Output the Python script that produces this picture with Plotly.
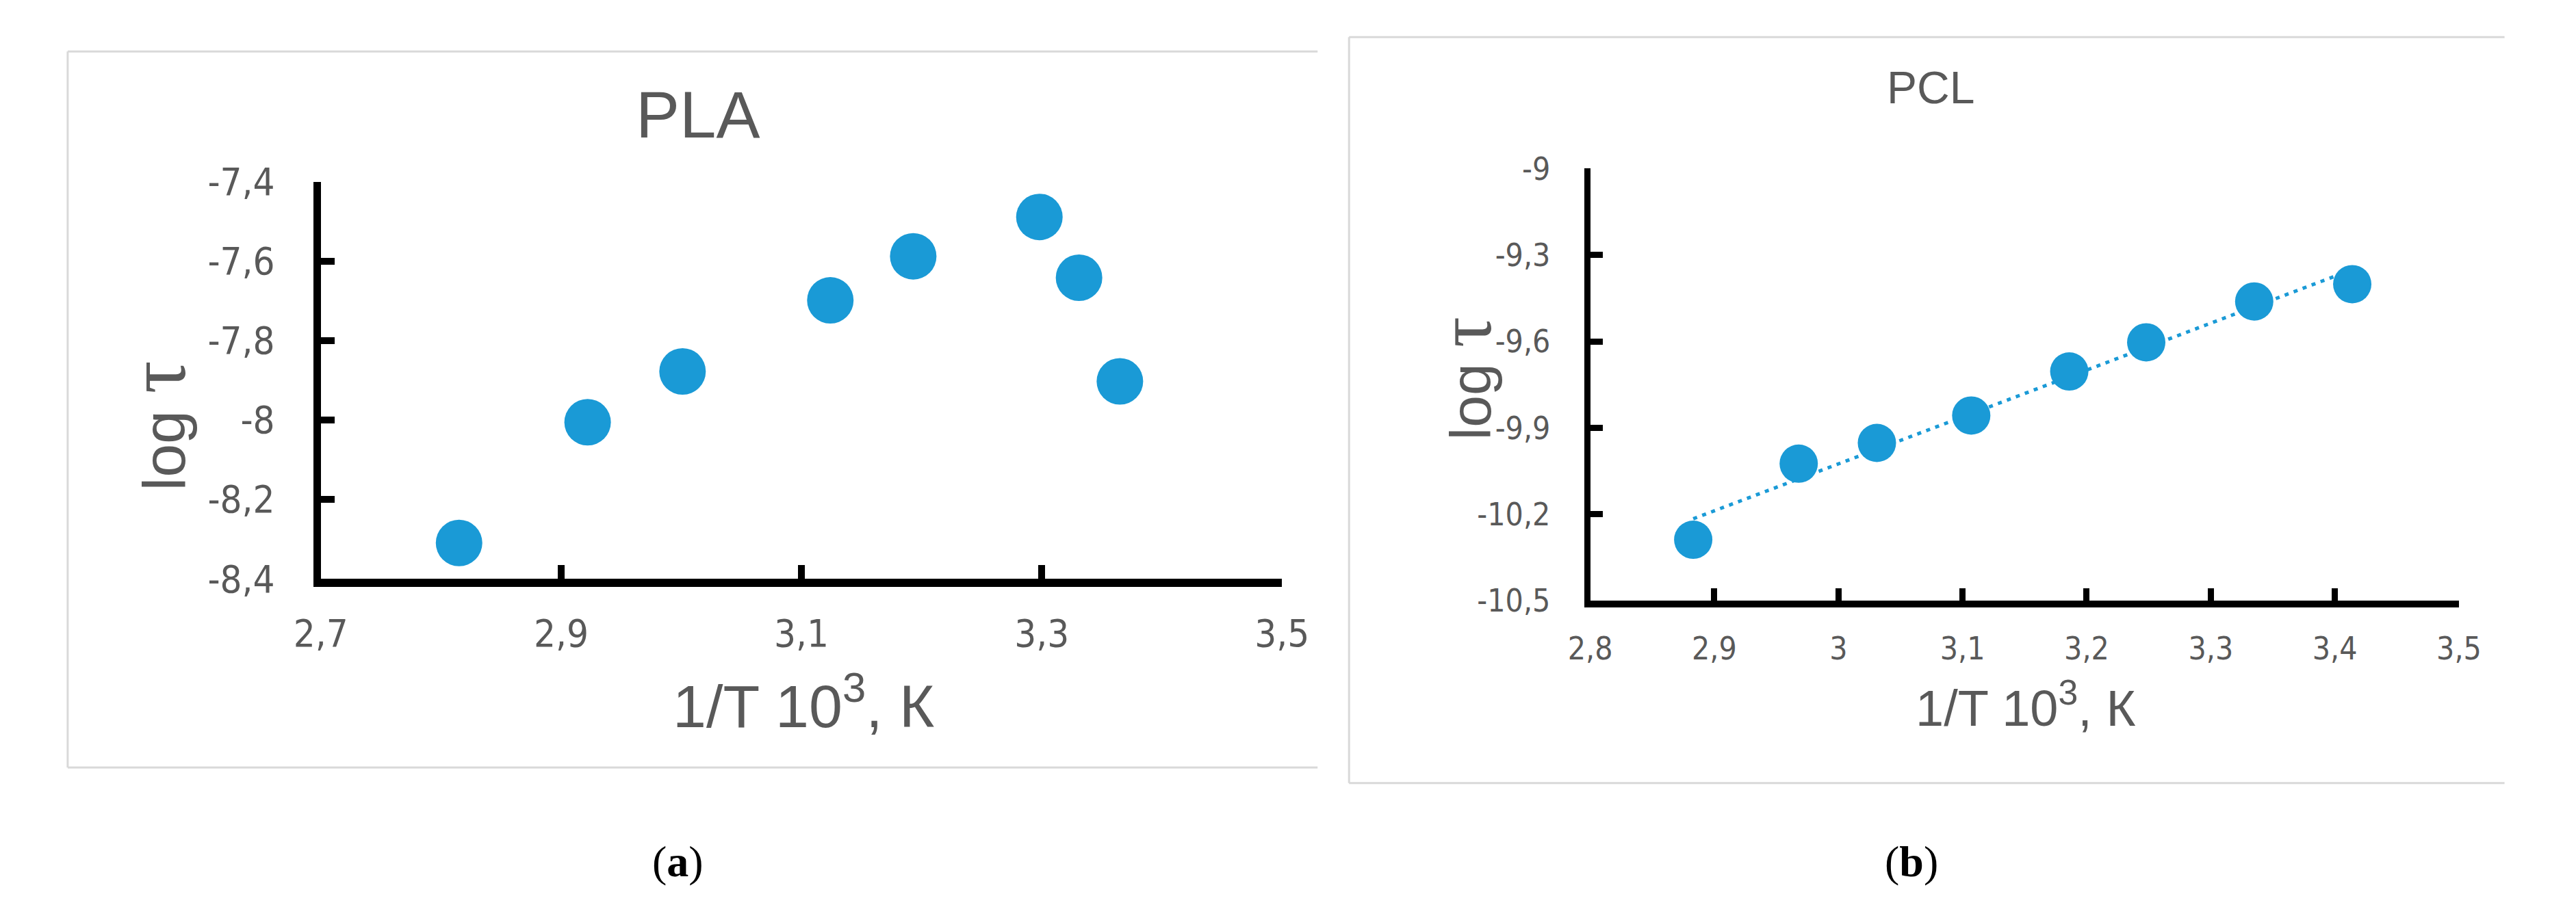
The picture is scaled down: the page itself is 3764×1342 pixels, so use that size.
import numpy as np
import plotly.graph_objects as go

W, H = 3764, 1342

# ---------------- data ----------------
pla_x = [2.815, 2.922, 3.001, 3.124, 3.193, 3.298, 3.331, 3.365]
pla_y = [-8.31, -8.006, -7.878, -7.699, -7.588, -7.489, -7.642, -7.903]

pcl_x = [2.883, 2.968, 3.031, 3.107, 3.186, 3.248, 3.335, 3.414]
pcl_y = [-10.288, -10.024, -9.952, -9.857, -9.704, -9.603, -9.461, -9.401]

pla_xticks = [2.7, 2.9, 3.1, 3.3, 3.5]
pla_xlabels = ["2,7", "2,9", "3,1", "3,3", "3,5"]
pla_yticks = [-8.4, -8.2, -8.0, -7.8, -7.6, -7.4]
pla_ylabels = ["-8,4", "-8,2", "-8", "-7,8", "-7,6", "-7,4"]

pcl_xticks = [2.8, 2.9, 3.0, 3.1, 3.2, 3.3, 3.4, 3.5]
pcl_xlabels = ["2,8", "2,9", "3", "3,1", "3,2", "3,3", "3,4", "3,5"]
pcl_yticks = [-10.5, -10.2, -9.9, -9.6, -9.3, -9.0]
pcl_ylabels = ["-10,5", "-10,2", "-9,9", "-9,6", "-9,3", "-9"]

# linear trend for PCL (Excel-style trendline)
slope, intercept = np.polyfit(pcl_x, pcl_y, 1)
trend_x = [min(pcl_x), max(pcl_x)]
trend_y = [slope * v + intercept for v in trend_x]

BLUE = "#1A9AD6"
GREY = "#595959"
TICKFONT = "Liberation Sans Narrow, DejaVu Sans Condensed, Roboto Condensed, Roboto, sans-serif"
TITLEFONT = "Liberation Sans, Arial, sans-serif"


def px(x):
    return x / W


def py(y):
    return 1 - y / H


fig = go.Figure()
fig.add_trace(go.Scatter(x=pla_x, y=pla_y, mode="markers", xaxis="x", yaxis="y",
                         marker=dict(size=68, color=BLUE, line=dict(width=0)),
                         showlegend=False))
fig.add_trace(go.Scatter(x=trend_x, y=trend_y, mode="lines", xaxis="x2", yaxis="y2",
                         line=dict(color=BLUE, width=5, dash="6px,8px"),
                         showlegend=False))
fig.add_trace(go.Scatter(x=pcl_x, y=pcl_y, mode="markers", xaxis="x2", yaxis="y2",
                         marker=dict(size=56, color=BLUE, line=dict(width=0)),
                         showlegend=False))


def axis_common(lw, tw, tl, fs, standoff):
    return dict(showgrid=False, zeroline=False, showline=True, linecolor="black",
                linewidth=lw, ticks="inside", tickcolor="black", tickwidth=tw,
                ticklen=tl, tickfont=dict(family=TICKFONT, size=fs, color=GREY),
                ticklabelstandoff=standoff, fixedrange=True)


fig.update_layout(
    width=W, height=H, autosize=False,
    margin=dict(l=0, r=0, t=0, b=0),
    paper_bgcolor="white", plot_bgcolor="white",
    xaxis=dict(domain=[px(430), px(1865)], range=[2.7, 3.5], anchor="y",
               tickmode="array", tickvals=pla_xticks, ticktext=pla_xlabels,
               **axis_common(12, 10, 20, 56, 20)),
    yaxis=dict(domain=[py(847), py(237)], range=[-8.4, -7.4], anchor="x",
               tickmode="array", tickvals=pla_yticks, ticktext=pla_ylabels,
               **axis_common(11, 10, 20, 56, 45)),
    xaxis2=dict(domain=[px(2325), px(3622)], range=[2.8, 3.5], anchor="y2",
                tickmode="array", tickvals=pcl_xticks, ticktext=pcl_xlabels,
                **axis_common(10, 9, 18, 46, 20)),
    yaxis2=dict(domain=[py(881), py(217)], range=[-10.5, -9.0], anchor="x2",
                tickmode="array", tickvals=pcl_yticks, ticktext=pcl_ylabels,
                **axis_common(9, 9, 18, 46, 40)),
)

# panel frames (light grey, open on the right as in the cropped source)
FRAME = dict(color="#D9D9D9", width=3)
frames = [
    (52, 37, 1918, 1137),
    (1965, 15, 3690, 1161),
]
for (x0, y0, x1, y1) in frames:
    fig.add_shape(type="line", xref="paper", yref="paper", x0=px(x0), x1=px(x1),
                  y0=py(y0), y1=py(y0), line=FRAME, layer="below")
    fig.add_shape(type="line", xref="paper", yref="paper", x0=px(x0), x1=px(x1),
                  y0=py(y1), y1=py(y1), line=FRAME, layer="below")
    fig.add_shape(type="line", xref="paper", yref="paper", x0=px(x0), x1=px(x0),
                  y0=py(y0), y1=py(y1), line=FRAME, layer="below")


def ann(text, x, y, size, family=TITLEFONT, color=GREY, angle=0):
    fig.add_annotation(text=text, xref="paper", yref="paper", x=px(x), y=py(y),
                       xanchor="center", yanchor="middle", showarrow=False,
                       textangle=angle, font=dict(family=family, size=size, color=color))


TAU = "<span style='font-family:Liberation Serif, serif;font-size:{}px'>τ</span>"

# panel (a)
ann("PLA", 993, 134, 96)
ann("1/T 10<sup>3</sup>, К", 1150, 1036, 88)
ann("log " + TAU.format(120), 185, 612, 88, angle=-90)
ann("(<b>a</b>)", 963, 1282, 64, family="Liberation Serif, Times New Roman, serif", color="black")

# panel (b)
ann("PCL", 2833, 92, 66)
ann("1/T 10<sup>3</sup>, К", 2975, 1040, 74)
ann("log " + TAU.format(112), 2137, 540, 84, angle=-90)
ann("(<b>b</b>)", 2805, 1282, 64, family="Liberation Serif, Times New Roman, serif", color="black")

fig.write_html("out.html")
